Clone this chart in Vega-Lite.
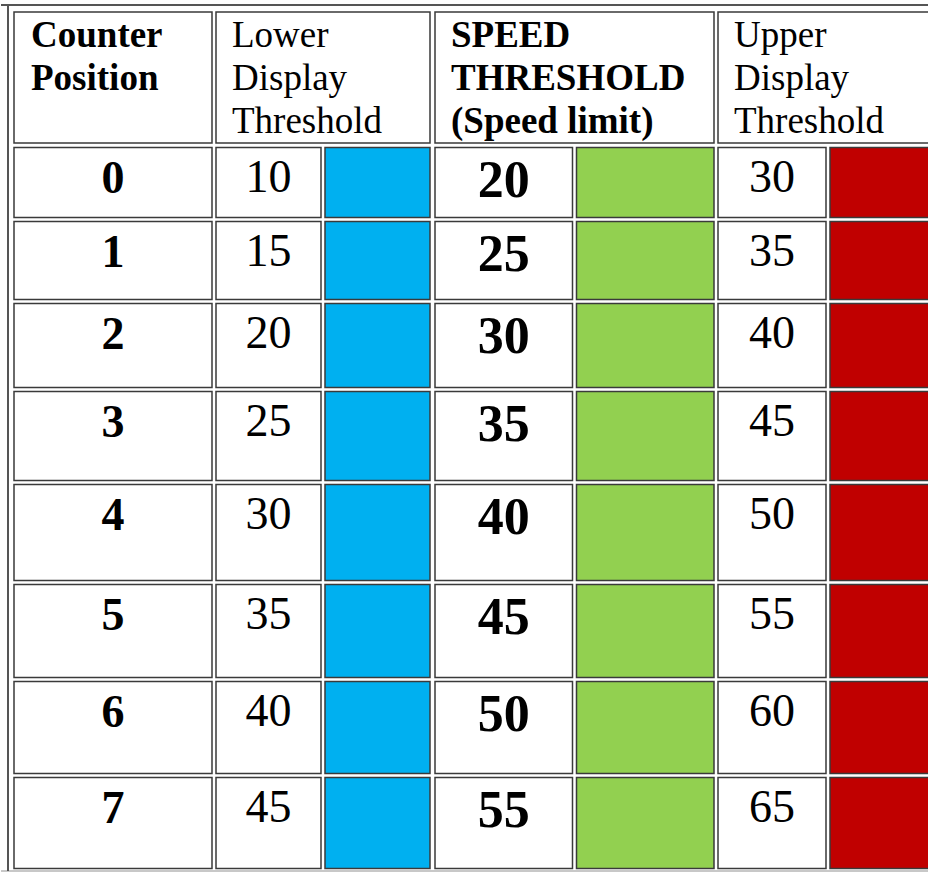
{
  "$schema": "https://vega.github.io/schema/vega-lite/v6.json",
  "padding": 0,
  "spacing": 0,
  "bounds": "flush",
  "background": "white",
  "data": {"values": [
    {"counter": 0, "lower": 10, "speed": 20, "upper": 30},
    {"counter": 1, "lower": 15, "speed": 25, "upper": 35},
    {"counter": 2, "lower": 20, "speed": 30, "upper": 40},
    {"counter": 3, "lower": 25, "speed": 35, "upper": 45},
    {"counter": 4, "lower": 30, "speed": 40, "upper": 50},
    {"counter": 5, "lower": 35, "speed": 45, "upper": 55},
    {"counter": 6, "lower": 40, "speed": 50, "upper": 60},
    {"counter": 7, "lower": 45, "speed": 55, "upper": 65}
  ]},
  "config": {
    "view": {"stroke": null},
    "axis": {"disable": true}
  },
  "hconcat": [
    {
      "width": 213, "height": 874,
      "layer": [
        {
          "data": {"values": [{"label": "Counter\nPosition"}]},
          "mark": {"type": "rect", "fill": "white", "stroke": "#3a3a3a", "strokeWidth": 1.5, "y2Offset": -4},
          "encoding": {
            "x": {"datum": "cell", "type": "nominal", "scale": {"domain": ["cell"], "range": [13, 211], "paddingInner": 0, "paddingOuter": 0}},
            "y": {"datum": -1, "type": "quantitative", "scale": {"domain": [-1, 0, 1, 2, 3, 4, 5, 6, 7, 8], "range": [872, 777, 681, 584, 484, 391, 303, 221, 147, 12], "reverse": true}},
            "y2": {"datum": 0}
          }
        },
        {
          "data": {"values": [{"label": "Counter\nPosition"}]},
          "mark": {"type": "text", "font": "Liberation Serif", "fontWeight": "bold", "fontSize": 37, "align": "left", "baseline": "alphabetic", "lineBreak": "\n", "lineHeight": 43, "dx": 17, "dy": 35, "fill": "black"},
          "encoding": {
            "x": {"datum": "cell", "type": "nominal", "bandPosition": 0},
            "y": {"datum": -1, "type": "quantitative"},
            "text": {"field": "label", "type": "nominal"}
          }
        },
        {
          "mark": {"type": "rect", "fill": "white", "stroke": "#3a3a3a", "strokeWidth": 1.5, "binSpacing": 4, "yOffset": 2},
          "encoding": {
            "x": {"datum": "cell", "type": "nominal"},
            "y": {"field": "counter", "type": "quantitative", "bin": {"step": 1, "extent": [0, 8]}}
          }
        },
        {
          "mark": {"type": "text", "font": "Liberation Serif", "fontWeight": "bold", "fontSize": 46, "align": "center", "baseline": "alphabetic", "dy": 46, "fill": "black"},
          "encoding": {
            "x": {"datum": "cell", "type": "nominal"},
            "y": {"field": "counter", "type": "quantitative"},
            "text": {"field": "counter", "type": "nominal"}
          }
        },
        {
          "data": {"values": [{}]},
          "mark": {"type": "rule", "color": "#555555", "strokeWidth": 2, "yOffset": -7},
          "encoding": {"y": {"datum": -1, "type": "quantitative"}}
        },
        {
          "data": {"values": [{}]},
          "mark": {"type": "rule", "color": "#c8c8c8", "strokeWidth": 2, "yOffset": -1},
          "encoding": {"y": {"datum": 8, "type": "quantitative"}}
        },
        {
          "data": {"values": [{}]},
          "mark": {"type": "rule", "color": "#555555", "strokeWidth": 2, "xOffset": -6, "yOffset": -7, "y2Offset": -1},
          "encoding": {
            "x": {"datum": "cell", "type": "nominal", "bandPosition": 0},
            "y": {"datum": -1, "type": "quantitative"},
            "y2": {"datum": 8}
          }
        }
      ]
    },
    {
      "width": 219, "height": 874,
      "layer": [
        {
          "data": {"values": [{"label": "Lower\nDisplay\nThreshold"}]},
          "mark": {"type": "rect", "fill": "white", "stroke": "#3a3a3a", "strokeWidth": 1.5, "y2Offset": -4},
          "encoding": {
            "x": {"datum": "value", "type": "nominal", "bandPosition": 0, "scale": {"domain": ["value", "swatch"], "range": [2, 216], "paddingInner": 0.0367, "paddingOuter": 0}},
            "x2": {"datum": "swatch", "bandPosition": 1},
            "y": {"datum": -1, "type": "quantitative", "scale": {"domain": [-1, 0, 1, 2, 3, 4, 5, 6, 7, 8], "range": [872, 777, 681, 584, 484, 391, 303, 221, 147, 12], "reverse": true}},
            "y2": {"datum": 0}
          }
        },
        {
          "data": {"values": [{"label": "Lower\nDisplay\nThreshold"}]},
          "mark": {"type": "text", "font": "Liberation Serif", "fontSize": 37, "align": "left", "baseline": "alphabetic", "lineBreak": "\n", "lineHeight": 43, "dx": 16, "dy": 35, "fill": "black"},
          "encoding": {
            "x": {"datum": "value", "type": "nominal", "bandPosition": 0},
            "y": {"datum": -1, "type": "quantitative"},
            "text": {"field": "label", "type": "nominal"}
          }
        },
        {
          "mark": {"type": "rect", "fill": "white", "stroke": "#3a3a3a", "strokeWidth": 1.5, "binSpacing": 4, "yOffset": 2},
          "encoding": {
            "x": {"datum": "value", "type": "nominal"},
            "y": {"field": "counter", "type": "quantitative", "bin": {"step": 1, "extent": [0, 8]}}
          }
        },
        {
          "mark": {"type": "rect", "fill": "#00B0F0", "stroke": "#3a3a3a", "strokeWidth": 1.5, "binSpacing": 4, "yOffset": 2},
          "encoding": {
            "x": {"datum": "swatch", "type": "nominal"},
            "y": {"field": "counter", "type": "quantitative", "bin": {"step": 1, "extent": [0, 8]}}
          }
        },
        {
          "mark": {"type": "text", "font": "Liberation Serif", "fontSize": 46, "align": "center", "baseline": "alphabetic", "dy": 45, "fill": "black"},
          "encoding": {
            "x": {"datum": "value", "type": "nominal"},
            "y": {"field": "counter", "type": "quantitative"},
            "text": {"field": "lower", "type": "nominal"}
          }
        },
        {
          "data": {"values": [{}]},
          "mark": {"type": "rule", "color": "#555555", "strokeWidth": 2, "yOffset": -7},
          "encoding": {"y": {"datum": -1, "type": "quantitative"}}
        },
        {
          "data": {"values": [{}]},
          "mark": {"type": "rule", "color": "#c8c8c8", "strokeWidth": 2, "yOffset": -1},
          "encoding": {"y": {"datum": 8, "type": "quantitative"}}
        }
      ]
    },
    {
      "width": 283, "height": 874,
      "layer": [
        {
          "data": {"values": [{"label": "SPEED\nTHRESHOLD\n(Speed limit)"}]},
          "mark": {"type": "rect", "fill": "white", "stroke": "#3a3a3a", "strokeWidth": 1.5, "y2Offset": -4},
          "encoding": {
            "x": {"datum": "value", "type": "nominal", "bandPosition": 0, "scale": {"domain": ["value", "swatch"], "range": [2, 281], "paddingInner": 0.0283, "paddingOuter": 0}},
            "x2": {"datum": "swatch", "bandPosition": 1},
            "y": {"datum": -1, "type": "quantitative", "scale": {"domain": [-1, 0, 1, 2, 3, 4, 5, 6, 7, 8], "range": [872, 777, 681, 584, 484, 391, 303, 221, 147, 12], "reverse": true}},
            "y2": {"datum": 0}
          }
        },
        {
          "data": {"values": [{"label": "SPEED\nTHRESHOLD\n(Speed limit)"}]},
          "mark": {"type": "text", "font": "Liberation Serif", "fontWeight": "bold", "fontSize": 37, "align": "left", "baseline": "alphabetic", "lineBreak": "\n", "lineHeight": 43, "dx": 16, "dy": 35, "fill": "black"},
          "encoding": {
            "x": {"datum": "value", "type": "nominal", "bandPosition": 0},
            "y": {"datum": -1, "type": "quantitative"},
            "text": {"field": "label", "type": "nominal"}
          }
        },
        {
          "mark": {"type": "rect", "fill": "white", "stroke": "#3a3a3a", "strokeWidth": 1.5, "binSpacing": 4, "yOffset": 2},
          "encoding": {
            "x": {"datum": "value", "type": "nominal"},
            "y": {"field": "counter", "type": "quantitative", "bin": {"step": 1, "extent": [0, 8]}}
          }
        },
        {
          "mark": {"type": "rect", "fill": "#92D050", "stroke": "#3a3a3a", "strokeWidth": 1.5, "binSpacing": 4, "yOffset": 2},
          "encoding": {
            "x": {"datum": "swatch", "type": "nominal"},
            "y": {"field": "counter", "type": "quantitative", "bin": {"step": 1, "extent": [0, 8]}}
          }
        },
        {
          "mark": {"type": "text", "font": "Liberation Serif", "fontWeight": "bold", "fontSize": 52, "align": "center", "baseline": "alphabetic", "dy": 50, "fill": "black"},
          "encoding": {
            "x": {"datum": "value", "type": "nominal"},
            "y": {"field": "counter", "type": "quantitative"},
            "text": {"field": "speed", "type": "nominal"}
          }
        },
        {
          "data": {"values": [{}]},
          "mark": {"type": "rule", "color": "#555555", "strokeWidth": 2, "yOffset": -7},
          "encoding": {"y": {"datum": -1, "type": "quantitative"}}
        },
        {
          "data": {"values": [{}]},
          "mark": {"type": "rule", "color": "#c8c8c8", "strokeWidth": 2, "yOffset": -1},
          "encoding": {"y": {"datum": 8, "type": "quantitative"}}
        }
      ]
    },
    {
      "width": 225, "height": 874,
      "layer": [
        {
          "data": {"values": [{"label": "Upper\nDisplay\nThreshold"}]},
          "mark": {"type": "rect", "fill": "white", "stroke": "#3a3a3a", "strokeWidth": 1.5, "y2Offset": -4},
          "encoding": {
            "x": {"datum": "value", "type": "nominal", "bandPosition": 0, "scale": {"domain": ["value", "swatch"], "range": [2, 222], "paddingInner": 0.0357, "paddingOuter": 0}},
            "x2": {"datum": "swatch", "bandPosition": 1},
            "y": {"datum": -1, "type": "quantitative", "scale": {"domain": [-1, 0, 1, 2, 3, 4, 5, 6, 7, 8], "range": [872, 777, 681, 584, 484, 391, 303, 221, 147, 12], "reverse": true}},
            "y2": {"datum": 0}
          }
        },
        {
          "data": {"values": [{"label": "Upper\nDisplay\nThreshold"}]},
          "mark": {"type": "text", "font": "Liberation Serif", "fontSize": 37, "align": "left", "baseline": "alphabetic", "lineBreak": "\n", "lineHeight": 43, "dx": 16, "dy": 35, "fill": "black"},
          "encoding": {
            "x": {"datum": "value", "type": "nominal", "bandPosition": 0},
            "y": {"datum": -1, "type": "quantitative"},
            "text": {"field": "label", "type": "nominal"}
          }
        },
        {
          "mark": {"type": "rect", "fill": "white", "stroke": "#3a3a3a", "strokeWidth": 1.5, "binSpacing": 4, "yOffset": 2},
          "encoding": {
            "x": {"datum": "value", "type": "nominal"},
            "y": {"field": "counter", "type": "quantitative", "bin": {"step": 1, "extent": [0, 8]}}
          }
        },
        {
          "mark": {"type": "rect", "fill": "#C00000", "stroke": "#3a3a3a", "strokeWidth": 1.5, "binSpacing": 4, "yOffset": 2},
          "encoding": {
            "x": {"datum": "swatch", "type": "nominal"},
            "y": {"field": "counter", "type": "quantitative", "bin": {"step": 1, "extent": [0, 8]}}
          }
        },
        {
          "mark": {"type": "text", "font": "Liberation Serif", "fontSize": 46, "align": "center", "baseline": "alphabetic", "dy": 45, "fill": "black"},
          "encoding": {
            "x": {"datum": "value", "type": "nominal"},
            "y": {"field": "counter", "type": "quantitative"},
            "text": {"field": "upper", "type": "nominal"}
          }
        },
        {
          "data": {"values": [{}]},
          "mark": {"type": "rule", "color": "#555555", "strokeWidth": 2, "yOffset": -7},
          "encoding": {"y": {"datum": -1, "type": "quantitative"}}
        },
        {
          "data": {"values": [{}]},
          "mark": {"type": "rule", "color": "#c8c8c8", "strokeWidth": 2, "yOffset": -1},
          "encoding": {"y": {"datum": 8, "type": "quantitative"}}
        }
      ]
    }
  ]
}
